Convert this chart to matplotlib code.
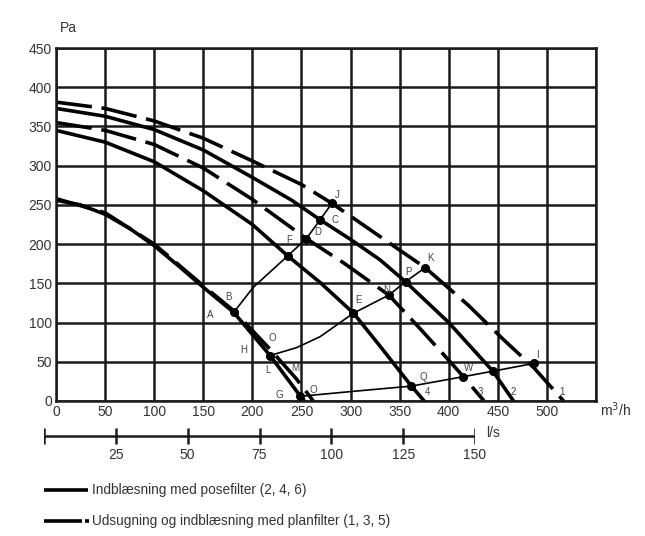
import numpy as np
import matplotlib
matplotlib.use("Agg")
import matplotlib.pyplot as plt

plt.rcParams['font.family'] = ['Liberation Sans', 'DejaVu Sans']
plt.rcParams['lines.scale_dashes'] = False

# fan curves, flow in m3/h, pressure in Pa
c1_q = [0, 50, 100, 150, 200, 250, 281, 310, 340, 376, 420, 456, 487, 517]
c1_p = [381, 373, 357, 335, 306, 276, 252, 227, 201, 170, 122, 78, 42, 0]
c2_q = [0, 50, 100, 150, 200, 240, 269, 300, 330, 356, 400, 445, 466]
c2_p = [373, 363, 346, 320, 285, 256, 231, 206, 180, 152, 100, 38, 0]
c3_q = [0, 50, 100, 150, 200, 255, 293, 339, 371, 400, 415, 436]
c3_p = [355, 345, 327, 297, 257, 207, 176, 135, 92, 52, 31, 0]
c4_q = [0, 50, 100, 150, 200, 236, 270, 303, 330, 362, 375]
c4_p = [345, 330, 305, 268, 225, 185, 150, 112, 70, 19, 0]
c5_q = [0, 50, 100, 150, 181, 218, 245, 262]
c5_p = [258, 240, 200, 147, 115, 66, 28, 0]
c6_q = [0, 25, 50, 75, 100, 125, 150, 181, 218, 249, 253]
c6_p = [256, 250, 238, 220, 198, 172, 145, 113, 58, 6, 0]

# system curves
lo_q = [249, 300, 362, 415, 445, 487]
lo_p = [6, 12, 19, 31, 38, 48]
mid_q = [218, 245, 269, 303, 339, 356, 376]
mid_p = [58, 68, 82, 112, 135, 152, 170]
hi_q = [181, 201, 236, 255, 269, 281]
hi_p = [113, 145, 185, 207, 231, 252]

# operating points
pt_q = [249, 362, 415, 445, 487, 218, 303, 339, 356, 376, 181, 236, 255, 269, 281]
pt_p = [6, 19, 31, 38, 48, 58, 112, 135, 152, 170, 113, 185, 207, 231, 252]

# letters on the chart
lab_txt = ['A', 'B', 'H', 'O', 'L', 'M', 'G', 'O', 'F', 'D', 'C', 'J', 'K', 'P',
           'N', 'E', 'Q', 'W', 'I', '1', '2', '3', '4']
lab_q = [157, 176, 191, 220, 216, 244, 227, 262, 237, 267, 284, 286, 381, 359,
         337, 308, 374, 420, 490, 515, 466, 432, 378]
lab_p = [110, 133, 65, 80, 40, 42, 8, 14, 205, 216, 231, 263, 182, 165,
         141, 129, 31, 42, 59, 12, 12, 12, 12]

x_ticks = [0, 50, 100, 150, 200, 250, 300, 350, 400, 450, 500, 550]
y_ticks = [0, 50, 100, 150, 200, 250, 300, 350, 400, 450]
ls_ticks = [0, 25, 50, 75, 100, 125, 150]

W, H = 645, 536
fig = plt.figure(figsize=(W / 100, H / 100), dpi=100)

def fx(px):
    return px / W

def fy(py):
    return 1 - py / H

txt = '#333333'
ax = fig.add_axes([fx(56), fy(401), fx(596) - fx(56), fy(48) - fy(401)])
ax.set_xlim(0, 550)
ax.set_ylim(0, 450)
ax.set_xticks(x_ticks)
ax.set_xticklabels([str(t) for t in x_ticks[:-1]] + [''])
ax.set_yticks(y_ticks)
ax.tick_params(length=0, labelsize=10, labelcolor=txt, pad=3)
ax.grid(True, color='#1a1a1a', lw=1.8)
ax.set_axisbelow(True)
for s in ax.spines.values():
    s.set_linewidth(1.8)
    s.set_color('#1a1a1a')

dash = (0, (26, 7))
lw = 2.6
ax.plot(c1_q, c1_p, color='k', lw=lw, ls=dash)
ax.plot(c2_q, c2_p, color='k', lw=lw)
ax.plot(c3_q, c3_p, color='k', lw=lw, ls=dash)
ax.plot(c4_q, c4_p, color='k', lw=lw)
ax.plot(c5_q, c5_p, color='k', lw=lw, ls=dash)
ax.plot(c6_q, c6_p, color='k', lw=lw)

for q, p in [(lo_q, lo_p), (mid_q, mid_p), (hi_q, hi_p)]:
    ax.plot(q, p, color='k', lw=1.2)
ax.plot(pt_q, pt_p, 'o', color='k', ms=5.5)

for t, q, p in zip(lab_txt, lab_q, lab_p):
    ax.text(q, p, t, fontsize=7, color='#444444', ha='center', va='center')

fig.text(fx(68), fy(28), 'Pa', fontsize=10, color=txt, ha='center', va='center')
fig.text(fx(600), fy(410), 'm$^3$/h', fontsize=10, color=txt, ha='left', va='center')

# l/s scale
ax2 = fig.add_axes([fx(44), fy(446), fx(475) - fx(44), fy(426) - fy(446)])
ax2.set_xlim(0, 150)
ax2.set_ylim(-1, 1)
ax2.axis('off')
ax2.plot([ls_ticks[0], ls_ticks[-1]], [0, 0], color='#1a1a1a', lw=1.8, solid_capstyle='butt')
ax2.vlines(ls_ticks, -0.8, 0.8, color='#1a1a1a', lw=1.8)
for t in ls_ticks[1:]:
    ax2.text(t, -1.9, str(t), fontsize=10, color=txt, ha='center', va='center', clip_on=False)
fig.text(fx(486), fy(433), 'l/s', fontsize=10, color=txt, ha='left', va='center')

# legend
lg = fig.add_axes([0, 0, 1, 1])
lg.set_xlim(0, W)
lg.set_ylim(H, 0)
lg.axis('off')
lg.plot([44, 88], [490, 490], color='k', lw=2.6, solid_capstyle='butt')
lg.plot([44, 82], [521, 521], color='k', lw=2.6, solid_capstyle='butt')
lg.plot([85, 89], [521, 521], color='k', lw=2.6, solid_capstyle='butt')
lg.text(92, 490, 'Indblæsning med posefilter (2, 4, 6)', fontsize=9.8, color=txt, va='center')
lg.text(92, 521, 'Udsugning og indblæsning med planfilter (1, 3, 5)', fontsize=9.8, color=txt, va='center')

fig.savefig('out.png', dpi=100)
